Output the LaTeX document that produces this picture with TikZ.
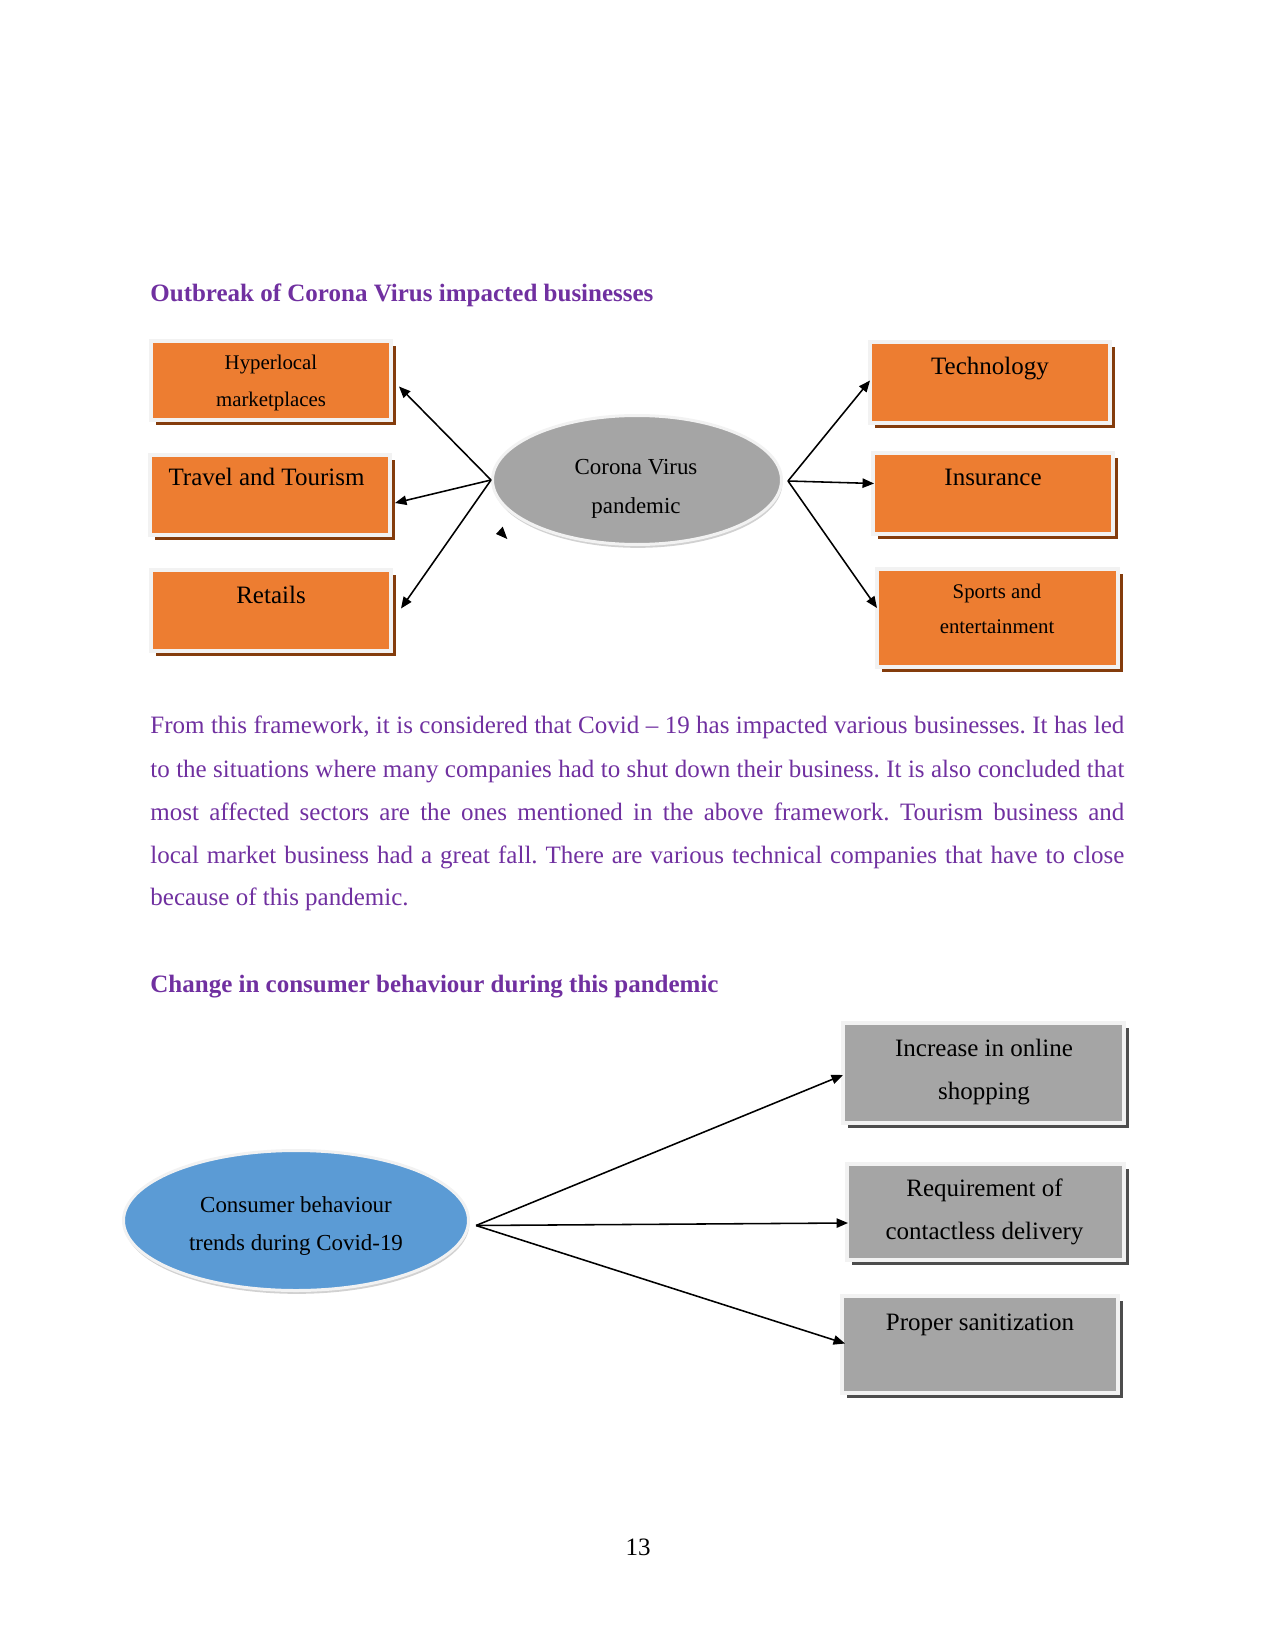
\documentclass[tikz,border=0pt]{standalone}
\usepackage{fontspec}
\setmainfont{Liberation Serif}
\usetikzlibrary{shapes.geometric,shadows,arrows.meta}
\definecolor{orng}{HTML}{ED7D31}
\definecolor{brwn}{HTML}{843C0C}
\definecolor{gry}{HTML}{A5A5A5}
\definecolor{dgry}{HTML}{4D4D4D}
\definecolor{frm}{HTML}{F2F2F2}
\definecolor{blu}{HTML}{5B9BD5}
\definecolor{purp}{HTML}{7030A0}
\frenchspacing
\begin{document}
\begin{tikzpicture}[x=0.48pt,y=-0.48pt,
  sz/.style 2 args={minimum width=#1*0.48pt, minimum height=#2*0.48pt},
  framed/.style={rectangle, draw=frm, line width=1.92pt, inner sep=0pt},
  obox/.style={framed, fill=orng, drop shadow={shadow xshift=2.2pt, shadow yshift=-2.2pt, fill=brwn, opacity=1}},
  gbox/.style={framed, fill=gry, drop shadow={shadow xshift=2.2pt, shadow yshift=-2.2pt, fill=dgry, opacity=1}},
  oval/.style={ellipse, draw=frm, line width=1.44pt, inner sep=0pt, drop shadow={shadow xshift=0.4pt, shadow yshift=-1.6pt, fill=black, opacity=0.18}},
  conn/.style={line width=0.75pt, -{Triangle[length=5.5pt,width=4.5pt]}},
  heading/.style={anchor=base west, text=purp, font=\fontsize{12}{14.4}\selectfont\bfseries, inner sep=0pt},
  para/.style={anchor=base west, text=purp, font=\fontsize{12}{14.4}\selectfont, inner sep=0pt},
  lbl/.style={inner sep=0pt, align=center, text=black, font=\fontsize{12}{14.4}\selectfont}
]
\useasboundingbox (0,0) rectangle (1275,1650);

% ---------- first diagram ----------
\node[heading] (t1) at (150,302) {Outbreak of Corona Virus impacted businesses};

\node[obox, sz={240}{79}] (hl) at (271,380.5) {};
\node[obox, sz={240}{80}] (tr) at (270,495) {};
\node[obox, sz={240}{81}] (rt) at (271,610.5) {};
\node[obox, sz={240}{81}] (tech) at (990,382.5) {};
\node[obox, sz={240}{81}] (ins) at (993,493.5) {};
\node[obox, sz={241}{98}] (sp) at (997.5,618) {};
\node[oval, fill=gry, sz={289}{129}] (cv) at (637,480) {};

\node[lbl, font=\fontsize{10}{17.3}\selectfont] (hlt) at (271,383) {Hyperlocal\\marketplaces};
\node[lbl, anchor=base] (trt) at (266.5,486) {Travel and Tourism};
\node[lbl, anchor=base] (rtt) at (271,603) {Retails};
\node[lbl, anchor=base] (techt) at (990,375) {Technology};
\node[lbl, anchor=base] (inst) at (993,485) {Insurance};
\node[lbl, font=\fontsize{10}{16.8}\selectfont] (spt) at (997,609) {Sports and\\entertainment};
\node[lbl, font=\fontsize{11}{18.9}\selectfont] (cvt) at (636,489) {Corona Virus\\pandemic};

\draw[conn] (cv.west) -- ([shift={(6,6)}]hl.east);
\draw[conn] (cv.west) -- ([shift={(3,8)}]tr.east);
\draw[conn] (cv.west) -- ([shift={(8,-2)}]rt.east);
\draw[conn] ([shift={(5,1)}]cv.east) -- ([shift={(2,-2)}]tech.west);
\draw[conn] ([shift={(5,1)}]cv.east) -- ([shift={(3,-10)}]ins.west);
\draw[conn] ([shift={(5,1)}]cv.east) -- ([shift={(2,-10)}]sp.west);
\fill[black] (502.7,526.7) -- (496,534) -- (507.3,539) -- cycle;

% ---------- paragraph ----------
\node[para] (p1) at (150,733) {\makebox[467.5pt][s]{From this framework, it is considered that Covid – 19 has impacted various businesses. It has led}};
\node[para] (p2) at (150,777) {\makebox[467.5pt][s]{to the situations where many companies had to shut down their business. It is also concluded that}};
\node[para] (p3) at (150,820) {\makebox[467.5pt][s]{most affected sectors are the ones mentioned in the above framework. Tourism business and}};
\node[para] (p4) at (150,863) {\makebox[467.5pt][s]{local market business had a great fall. There are various technical companies that have to close}};
\node[para] (p5) at (150,905) {because of this pandemic.};

% ---------- second diagram ----------
\node[heading] (t2) at (150,992) {Change in consumer behaviour during this pandemic};

\node[gbox, sz={281}{100}] (inc) at (983.5,1073) {};
\node[gbox, sz={277}{96}] (req) at (985.5,1212) {};
\node[gbox, sz={276}{97}] (prop) at (980,1344.5) {};
\node[oval, fill=blu, sz={345}{140}] (cb) at (296,1220.5) {};

\node[lbl, font=\fontsize{12}{20.8}\selectfont] (inct) at (984,1072) {Increase in online\\shopping};
\node[lbl, font=\fontsize{12}{21}\selectfont] (reqt) at (984.5,1212) {Requirement of\\contactless delivery};
\node[lbl, anchor=base] (propt) at (980,1330) {Proper sanitization};
\node[lbl, font=\fontsize{11}{18.7}\selectfont] (cbt) at (296,1226) {Consumer behaviour\\trends during Covid-19};

\draw[conn] ([shift={(6,5)}]cb.east) -- ([shift={(2,2)}]inc.west);
\draw[conn] ([shift={(6,5)}]cb.east) -- ([shift={(3,11)}]req.west);
\draw[conn] ([shift={(6,5)}]cb.east) -- ([shift={(5,-1)}]prop.west);

\node[anchor=base, inner sep=0pt, font=\fontsize{12}{14.4}\selectfont] (pg) at (638,1555) {13};
\end{tikzpicture}
\end{document}
